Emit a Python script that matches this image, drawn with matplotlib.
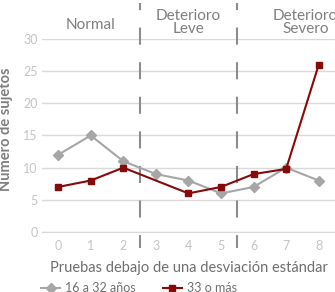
import numpy as np
import matplotlib
matplotlib.use("Agg")
import matplotlib.pyplot as plt

plt.rcParams['font.family'] = ['Lato', 'DejaVu Sans']

# -----------------------------
# Data
# -----------------------------
pruebas = [0, 1, 2, 3, 4, 5, 6, 7, 8]
jovenes = [12, 15, 11, 9, 8, 6, 7, 10, 8]
mayores = [7, 8, 10, None, 6, 7, 9, 9.8, 26]
grupos = ["Normal", "Deterioro\nLeve", "Deterioro\nSevero"]
limites = [2.5, 5.5]

# label placement (x centre, baseline of last line in data units)
centros = [1, 4, 7.6]
bases = [31.55, 30.93, 30.93]

fig = plt.figure(figsize=(3.35, 2.92), dpi=100)
ax = fig.add_axes([0.125, 0.2055, 0.875, 0.661])

ax.plot(pruebas, jovenes, color='#a6a6a6', marker='D', markersize=5, linewidth=1.5,
        label='16 a 32 años', zorder=3)
mx = [p for p, v in zip(pruebas, mayores) if v is not None]
my = [v for v in mayores if v is not None]
ax.plot(mx, my, color='#870a0a', marker='s', markersize=5, linewidth=1.5,
        label='33 o más', zorder=4)

ax.set_xlim(-0.5, 8.5)
ax.set_ylim(0, 30)
ax.set_yticks([0, 5, 10, 15, 20, 25, 30])
ax.set_xticks(pruebas)
ax.grid(axis='y', color='#d9d9d9', linewidth=1)
ax.set_axisbelow(True)
for s in ['top', 'right', 'left']:
    ax.spines[s].set_visible(False)
ax.spines['bottom'].set_color('#d9d9d9')
ax.tick_params(axis='both', length=0, colors='#c4c4c4', labelsize=9)
ax.tick_params(axis='x', pad=6)
ax.tick_params(axis='y', pad=3)

# dashed separators through the whole chart, drawn top to bottom
for b in limites:
    ax.plot([b, b], [1.187, -0.083], transform=ax.get_xaxis_transform(),
            color='#8c8c8c', linestyle=(4.8, (8.2, 8.4)), linewidth=1.5,
            clip_on=False, zorder=2)

# group labels above the axes
for c, yb, g in zip(centros, bases, grupos):
    ax.text(c, yb, g, ha='center', va='baseline', fontsize=11, color='#7f7f7f',
            linespacing=0.95)

ax.set_ylabel("Número de sujetos", fontsize=10.5, fontweight='bold', color='#7f7f7f')
ax.yaxis.set_label_coords(-0.1, 0.53)
ax.set_xlabel("Pruebas debajo de una desviación estándar", fontsize=10.5, color='#6f6f6f',
              labelpad=6)

fig.legend(loc='center', bbox_to_anchor=(0.415, 0.014), ncol=2, frameon=False, fontsize=9,
           labelcolor='#6f6f6f', handlelength=1.5, handletextpad=0.4, columnspacing=2.2)

fig.savefig("out.png", dpi=100)
